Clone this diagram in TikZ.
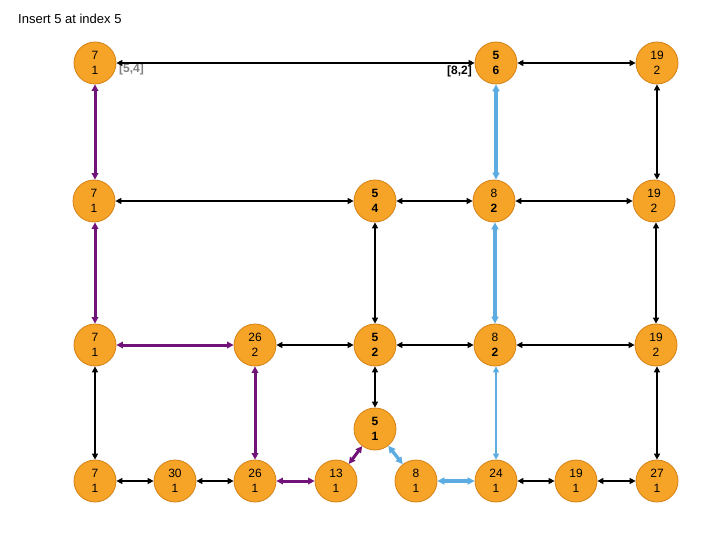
\documentclass[tikz,border=0pt]{standalone}
\usepackage{fontspec}
\setmainfont{Liberation Sans}
\usetikzlibrary{arrows.meta}
\definecolor{nodefill}{RGB}{246,164,40}
\definecolor{nodeedge}{RGB}{214,128,20}
\definecolor{purp}{RGB}{112,18,120}
\definecolor{lblue}{RGB}{92,172,226}
\definecolor{lgray}{RGB}{128,128,128}
\begin{document}
\begin{tikzpicture}[x=1pt,y=-1pt,
  nd/.style={circle,minimum size=42pt,inner sep=0pt,fill=nodefill,draw=nodeedge,line width=0.8pt,align=center,font=\fontsize{12}{15.5}\selectfont},
  blk/.style={draw=black,line width=1.8pt,{Triangle[length=6pt,width=6pt]}-{Triangle[length=6pt,width=6pt]}},
  pur/.style={draw=purp,line width=3pt,{Triangle[length=6.5pt,width=6.5pt]}-{Triangle[length=6.5pt,width=6.5pt]}},
  bluethick/.style={draw=lblue,line width=3.4pt,{Triangle[length=7pt,width=7pt]}-{Triangle[length=7pt,width=7pt]}},
  bluethin/.style={draw=lblue,line width=1.8pt,{Triangle[length=6pt,width=6pt]}-{Triangle[length=6pt,width=6pt]}},
  lbl/.style={font=\fontsize{12}{14}\selectfont\bfseries,inner sep=0pt}]
\useasboundingbox[fill=white] (0,0) rectangle (720,540);
\node[anchor=west,inner sep=0pt,font=\fontsize{13}{15}\selectfont] (title) at (18,19) {Insert 5 at index 5};
% row 1
\node[nd] (a1) at (95,63) {7\\1};
\node[nd] (a2) at (496,63) {\textbf{5}\\\textbf{6}};
\node[nd] (a3) at (657,63) {19\\2};
% row 2
\node[nd] (b1) at (94,201) {7\\1};
\node[nd] (b2) at (375,201) {\textbf{5}\\\textbf{4}};
\node[nd] (b3) at (494,201) {8\\\textbf{2}};
\node[nd] (b4) at (654,201) {19\\2};
% row 3
\node[nd] (c1) at (95,345) {7\\1};
\node[nd] (c2) at (255,345) {26\\2};
\node[nd] (c3) at (375,345) {\textbf{5}\\\textbf{2}};
\node[nd] (c4) at (495,345) {8\\\textbf{2}};
\node[nd] (c5) at (656,345) {19\\2};
% 5/1
\node[nd] (m) at (375,429) {\textbf{5}\\\textbf{1}};
% bottom
\node[nd] (d1) at (95,481) {7\\1};
\node[nd] (d2) at (175,481) {30\\1};
\node[nd] (d3) at (255,481) {26\\1};
\node[nd] (d4) at (336,481) {13\\1};
\node[nd] (d5) at (416,481) {8\\1};
\node[nd] (d6) at (496,481) {24\\1};
\node[nd] (d7) at (576,481) {19\\1};
\node[nd] (d8) at (657,481) {27\\1};
% labels
\node[lbl,text=lgray,anchor=west] (l1) at (119,69) {[5,4]};
\node[lbl,text=black,anchor=east] (l2) at (472,71) {[8,2]};
% horizontal black
\draw[blk] (a1) -- (a2);
\draw[blk] (a2) -- (a3);
\draw[blk] (b1) -- (b2);
\draw[blk] (b2) -- (b3);
\draw[blk] (b3) -- (b4);
\draw[blk] (c2) -- (c3);
\draw[blk] (c3) -- (c4);
\draw[blk] (c4) -- (c5);
\draw[blk] (d1) -- (d2);
\draw[blk] (d2) -- (d3);
\draw[blk] (d6) -- (d7);
\draw[blk] (d7) -- (d8);
% vertical black
\draw[blk] (a3) -- (a3 |- b4.north);
\draw[blk] (b2) -- (c3);
\draw[blk] (b4.south -| c5) -- (c5);
\draw[blk] (c1) -- (d1);
\draw[blk] (c3) -- (m);
\draw[blk] (c5.south -| d8) -- (d8);
% purple path
\draw[pur] (a1) -- (a1 |- b1.north);
\draw[pur] (b1.south -| c1) -- (c1);
\draw[pur] (c1) -- (c2);
\draw[pur] (c2) -- (d3);
\draw[pur] (d3) -- (d4);
\draw[pur] (d4) -- (m);
% blue path
\draw[bluethick] (m) -- (d5);
\draw[bluethick] (d5) -- (d6);
\draw[bluethin] (c4.south -| d6) -- (d6);
\draw[bluethick] (b3.south -| c4) -- (c4);
\draw[bluethick] (a2) -- (a2 |- b3.north);
\end{tikzpicture}
\end{document}
